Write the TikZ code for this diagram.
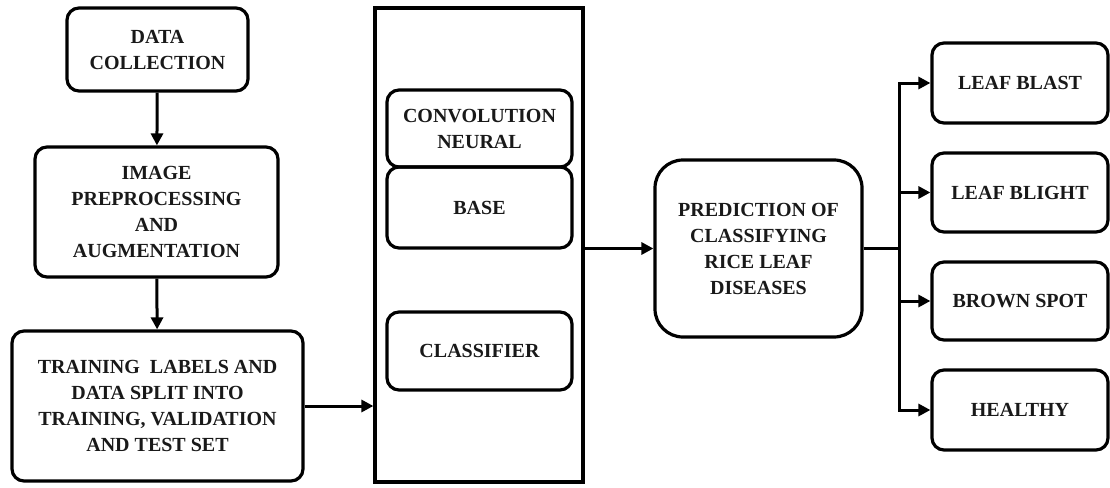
\documentclass[tikz,border=0pt]{standalone}
\usepackage{fontspec}
\setmainfont{Liberation Serif}
\usepackage{tikz}
\usetikzlibrary{arrows.meta}

\begin{document}
\begin{tikzpicture}[x=1pt, y=-1pt, line width=3.2pt,
  blk/.style={draw, rectangle, rounded corners=12pt, align=center, inner sep=0pt,
    font=\fontsize{20}{26}\selectfont\bfseries, text=black!90},
  flow/.style={-{Triangle[length=12pt,width=12pt]}, line width=3pt}]
\useasboundingbox (0,0) rectangle (1110,487);
% left column
\node[blk, minimum width=181, minimum height=83](data) at (157.5,49.5){DATA\\COLLECTION};
\node[blk, minimum width=243, minimum height=130](prep) at (156.5,212){IMAGE\\PREPROCESSING\\AND\\AUGMENTATION};
\node[blk, minimum width=291, minimum height=150](train) at (157.5,406){TRAINING \ LABELS AND\\DATA SPLIT INTO\\TRAINING, VALIDATION\\AND TEST SET};
% model
\node[draw, rectangle, minimum width=208, minimum height=474, inner sep=0pt](model) at (479,245){};
\node[blk, minimum width=185, minimum height=77](conv) at (479.5,128.5){CONVOLUTION\\NEURAL};
\node[blk, minimum width=185, minimum height=81](base) at (479.5,207.5){BASE};
\node[blk, minimum width=185, minimum height=78](clf) at (479.5,351){CLASSIFIER};
% output
\node[blk, minimum width=207, minimum height=177, rounded corners=28pt](pred) at (758.5,248.5){PREDICTION OF\\CLASSIFYING\\RICE LEAF\\DISEASES};
\node[blk, minimum width=176, minimum height=80](blast) at (1020,83){LEAF BLAST};
\node[blk, minimum width=176, minimum height=79](blight) at (1020,192.5){LEAF BLIGHT};
\node[blk, minimum width=176, minimum height=78](brown) at (1020,301){BROWN SPOT};
\node[blk, minimum width=176, minimum height=80](healthy) at (1020,410){HEALTHY};
\coordinate (fork) at ([xshift=36pt]pred.east);

\draw [flow](data) -- (prep);
\draw [flow](prep) -- (train);
\draw [flow](train.east) -- (train.east -| model.west);
\draw [flow](model.east |- pred.west) -- (pred.west);
\draw (pred.east) -- (fork);
\draw [flow](fork) |- (blast.west);
\draw [flow](fork) |- (blight.west);
\draw [flow](fork) |- (brown.west);
\draw [flow](fork) |- (healthy.west);
\end{tikzpicture}
\end{document}
